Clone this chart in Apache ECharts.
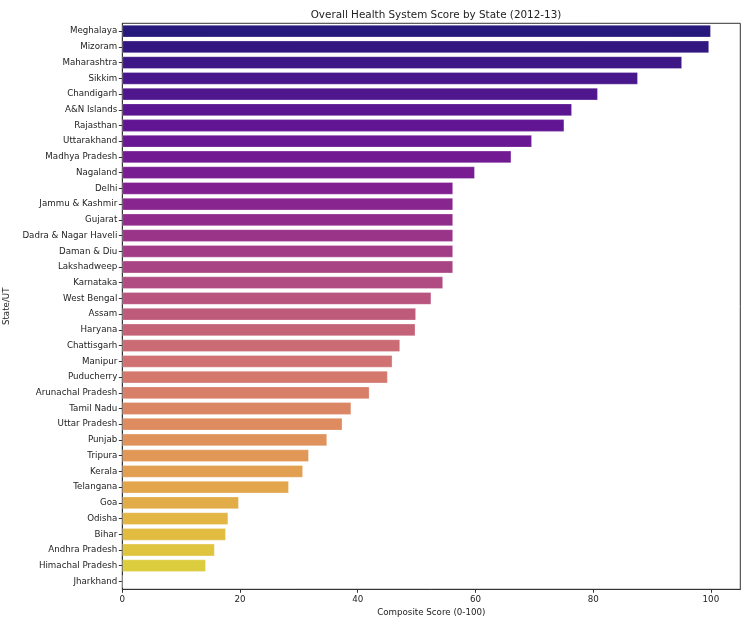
<!DOCTYPE html>
<html>
<head>
<meta charset="utf-8">
<script src="https://cdn.jsdelivr.net/npm/echarts@6/dist/echarts.min.js"></script>
<style>html,body{margin:0;padding:0;background:#fff;}#c{width:750px;height:625px;}</style>
</head>
<body>
<div id="c"></div>
<script>
var states = ["Meghalaya","Mizoram","Maharashtra","Sikkim","Chandigarh","A&N Islands","Rajasthan","Uttarakhand","Madhya Pradesh","Nagaland","Delhi","Jammu & Kashmir","Gujarat","Dadra & Nagar Haveli","Daman & Diu","Lakshadweep","Karnataka","West Bengal","Assam","Haryana","Chattisgarh","Manipur","Puducherry","Arunachal Pradesh","Tamil Nadu","Uttar Pradesh","Punjab","Tripura","Kerala","Telangana","Goa","Odisha","Bihar","Andhra Pradesh","Himachal Pradesh","Jharkhand"];
var scores = [100, 99.7, 95.1, 87.6, 80.8, 76.4, 75.1, 69.6, 66.1, 59.9, 56.2, 56.2, 56.2, 56.2, 56.2, 56.2, 54.5, 52.5, 49.9, 49.8, 47.2, 45.9, 45.1, 42.0, 38.9, 37.4, 34.8, 31.7, 30.7, 28.3, 19.8, 18.0, 17.6, 15.7, 14.2, 0];
var xTicks = [0, 20, 40, 60, 80, 100];

// plasma colormap anchor stops (style only)
var plasmaStops = ["#0d0887","#41049d","#6a00a8","#8f0da4","#b12a90","#cc4778","#e16462","#f2844b","#fca636","#fcce25","#f0f921"];
function hex2rgb(h){return [parseInt(h.substr(1,2),16)/255,parseInt(h.substr(3,2),16)/255,parseInt(h.substr(5,2),16)/255];}
function plasma(t){
  var p = t*(plasmaStops.length-1), i = Math.min(Math.floor(p), plasmaStops.length-2), f = p-i;
  var a = hex2rgb(plasmaStops[i]), b = hex2rgb(plasmaStops[i+1]);
  return [a[0]+(b[0]-a[0])*f, a[1]+(b[1]-a[1])*f, a[2]+(b[2]-a[2])*f];
}
function desat(rgb, prop){
  var r=rgb[0],g=rgb[1],b=rgb[2];
  var mx=Math.max(r,g,b), mn=Math.min(r,g,b), l=(mx+mn)/2, h=0, s=0;
  if(mx!==mn){
    var d=mx-mn;
    s = l<=0.5 ? d/(mx+mn) : d/(2-mx-mn);
    var rc=(mx-r)/d, gc=(mx-g)/d, bc=(mx-b)/d;
    if(r===mx) h=bc-gc; else if(g===mx) h=2+rc-bc; else h=4+gc-rc;
    h=(h/6)%1; if(h<0) h+=1;
  }
  s*=prop;
  function v(m1,m2,hue){hue=hue%1; if(hue<0)hue+=1; if(hue<1/6)return m1+(m2-m1)*hue*6; if(hue<0.5)return m2; if(hue<2/3)return m1+(m2-m1)*(2/3-hue)*6; return m1;}
  if(s===0) return [l,l,l];
  var m2 = l<=0.5 ? l*(1+s) : l+s-l*s, m1 = 2*l-m2;
  return [v(m1,m2,h+1/3), v(m1,m2,h), v(m1,m2,h-1/3)];
}
function toHex(c){return '#'+c.map(function(x){var s=Math.round(Math.max(0,Math.min(1,x))*255).toString(16);return s.length<2?'0'+s:s;}).join('');}
var n = states.length;
var colors = states.map(function(_,i){return toHex(desat(plasma((i+1)/(n+1)),0.75));});

var font = 'DejaVu Sans';
var chart = echarts.init(document.getElementById('c'), null, {renderer:'canvas'});
chart.setOption({
  backgroundColor:'#fff',
  animation:false,
  title:{text:'Overall Health System Score by State (2012-13)', left:431, top:5, textAlign:'center',
    textStyle:{fontFamily:font,fontSize:10.4,fontWeight:'normal',color:'#222'}},
  grid:{left:122.3,right:9.7,top:23.3,bottom:35.7,outerBoundsMode:'none',containLabel:false,
    show:true,borderColor:'#333',borderWidth:1,backgroundColor:'transparent'},
  xAxis:{type:'value',min:0,max:105,interval:20,
    name:'Composite Score (0-100)',nameLocation:'middle',nameGap:19,
    nameTextStyle:{fontFamily:font,fontSize:8.7,color:'#222'},
    axisLine:{show:true,lineStyle:{color:'#333',width:1}},
    axisTick:{show:true,length:3.5,lineStyle:{color:'#333'},customValues:xTicks},
    axisLabel:{fontFamily:font,fontSize:8.7,color:'#222',margin:5.5,customValues:xTicks},
    splitLine:{show:false}},
  yAxis:{type:'category',data:states,inverse:true,
    name:'State/UT',nameLocation:'middle',nameGap:102,nameRotate:90,
    nameTextStyle:{fontFamily:font,fontSize:8.7,color:'#222'},
    axisLine:{show:true,lineStyle:{color:'#333',width:1}},
    axisTick:{show:true,length:3.5,alignWithLabel:true,lineStyle:{color:'#333'}},
    axisLabel:{fontFamily:font,fontSize:8.7,color:'#222',margin:5}},
  series:[{type:'bar',barCategoryGap:'20%',
    data:scores.map(function(v,i){return {value:v,itemStyle:{color:colors[i]}};}),
    itemStyle:{borderColor:'rgba(255,255,255,0.35)',borderWidth:0.8}}]
});
</script>
</body>
</html>
